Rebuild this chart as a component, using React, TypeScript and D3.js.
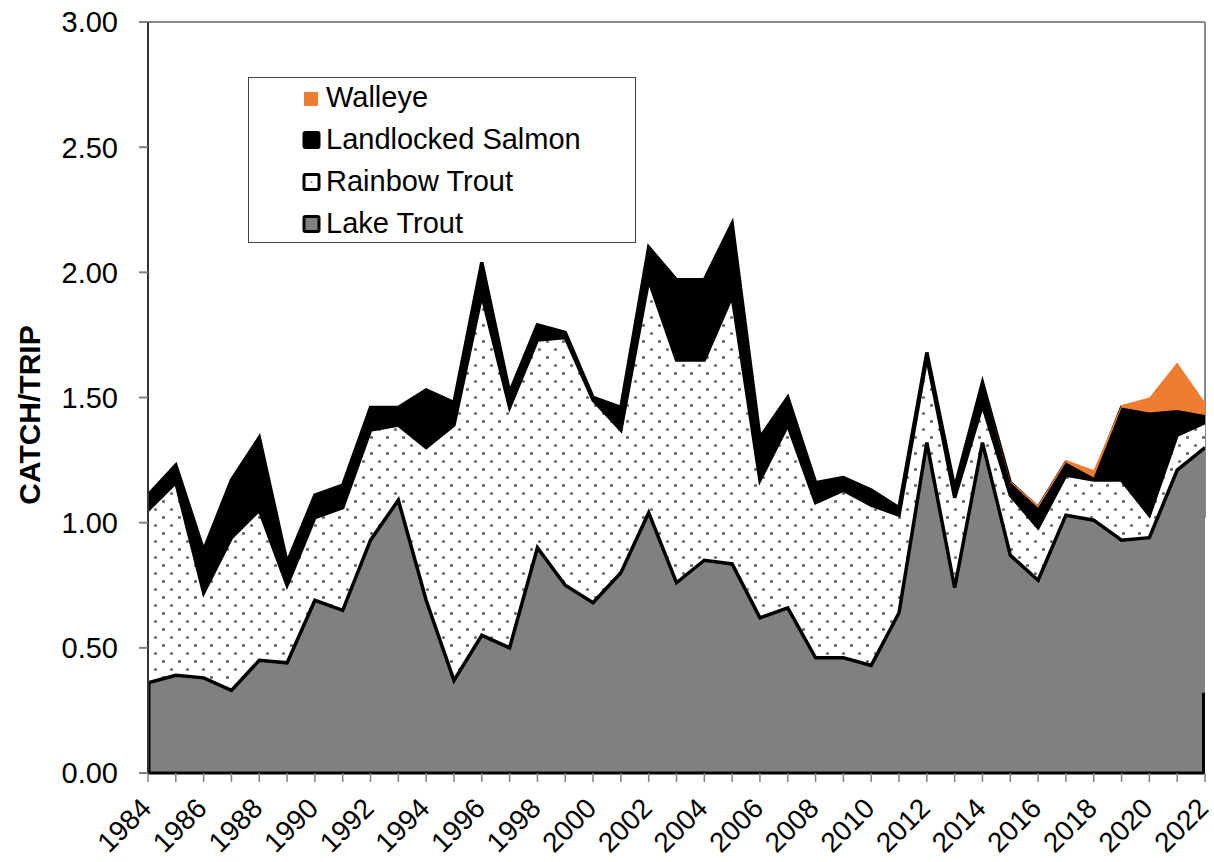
import React from "react";
import * as d3 from "d3";

const years: number[] = [
  1984, 1985, 1986, 1987, 1988, 1989, 1990, 1991, 1992, 1993, 1994, 1995, 1996,
  1997, 1998, 1999, 2000, 2001, 2002, 2003, 2004, 2005, 2006, 2007, 2008, 2009,
  2010, 2011, 2012, 2013, 2014, 2015, 2016, 2017, 2018, 2019, 2020, 2021, 2022,
];

const lakeTrout: number[] = [
  0.36, 0.39, 0.38, 0.33, 0.45, 0.44, 0.69, 0.65, 0.93, 1.09, 0.69, 0.37, 0.55,
  0.5, 0.9, 0.75, 0.68, 0.8, 1.04, 0.76, 0.85, 0.835, 0.62, 0.66, 0.46, 0.46,
  0.43, 0.64, 1.32, 0.74, 1.32, 0.87, 0.77, 1.03, 1.01, 0.93, 0.94, 1.21, 1.3,
];

const rainbowTrout: number[] = [
  0.69, 0.77, 0.34, 0.61, 0.6, 0.31, 0.33, 0.41, 0.44, 0.3, 0.61, 1.02, 1.36,
  0.96, 0.83, 0.99, 0.81, 0.57, 0.93, 0.89, 0.8, 1.07, 0.55, 0.73, 0.62, 0.67,
  0.64, 0.39, 0.34, 0.36, 0.15, 0.24, 0.21, 0.16, 0.16, 0.24, 0.09, 0.14, 0.1,
];

const landlockedSalmon: number[] = [
  0.06, 0.07, 0.17, 0.23, 0.29, 0.09, 0.09, 0.09, 0.09, 0.07, 0.23, 0.09, 0.13,
  0.06, 0.06, 0.02, 0.01, 0.09, 0.13, 0.32, 0.32, 0.29, 0.17, 0.11, 0.08, 0.05,
  0.06, 0.03, 0.02, 0.04, 0.09, 0.05, 0.08, 0.05, 0.01, 0.29, 0.41, 0.1, 0.03,
];

const walleye: number[] = [
  0, 0, 0, 0, 0, 0, 0, 0, 0, 0, 0, 0, 0, 0, 0, 0, 0, 0, 0, 0, 0, 0, 0, 0, 0, 0,
  0, 0, 0, 0, 0, 0.005, 0.01, 0.01, 0.03, 0.01, 0.06, 0.19, 0.05,
];

const yTicks: number[] = [0, 0.5, 1, 1.5, 2, 2.5, 3];
const xLabelYears: number[] = years.filter((y) => (y - 1984) % 2 === 0);

const keys = ["lake", "rainbow", "salmon", "walleye"] as const;
const legendItems = [
  { key: "walleye", label: "Walleye" },
  { key: "salmon", label: "Landlocked Salmon" },
  { key: "rainbow", label: "Rainbow Trout" },
  { key: "lake", label: "Lake Trout" },
];

const W = 1214;
const H = 862;
const M = { left: 148, right: 1205, top: 22, bottom: 773 };
const FONT = "'Liberation Sans', Arial, sans-serif";

export default function App() {
  const rows = years.map((yr, i) => ({
    year: yr,
    lake: lakeTrout[i],
    rainbow: rainbowTrout[i],
    salmon: landlockedSalmon[i],
    walleye: walleye[i],
  }));
  const stacked = d3.stack<any>().keys(keys as any)(rows);

  const x = d3.scaleLinear().domain([1984, 2022]).range([M.left, M.right]);
  const y = d3.scaleLinear().domain([0, 3]).range([M.bottom, M.top]);

  const area = d3
    .area<any>()
    .x((d) => x(d.data.year))
    .y0((d) => y(d[0]))
    .y1((d) => y(d[1]));
  const topLine = d3
    .line<any>()
    .x((d) => x(d.data.year))
    .y((d) => y(d[1]));

  const [sLake, sRain, sSalmon, sWalleye] = stacked;
  const fills: Record<string, string> = {
    lake: "#808080",
    rainbow: "url(#dots)",
    salmon: "#000000",
    walleye: "#ED7D31",
  };

  return (
    <div style={{ position: "absolute", left: 0, top: 0 }}>
      <svg width={W} height={H} style={{ display: "block", background: "#fff" }}>
        <defs>
          <pattern id="dots" width={16} height={16} patternUnits="userSpaceOnUse" x={2} y={4}>
            <rect width={16} height={16} fill="#fff" />
            <circle cx={1.5} cy={1.5} r={1.6} fill="#6e6e6e" />
            <circle cx={9.5} cy={9.5} r={1.6} fill="#6e6e6e" />
          </pattern>
          <clipPath id="plotclip">
            <rect x={M.left} y={M.top - 10} width={M.right - M.left} height={M.bottom - M.top + 12} />
          </clipPath>
        </defs>

        {/* frame */}
        <line x1={M.left} x2={M.right} y1={M.top} y2={M.top} stroke="#8a8a8a" strokeWidth={2} />
        <line x1={M.right} x2={M.right} y1={M.top} y2={y(1.02)} stroke="#8a8a8a" strokeWidth={2} />

        <g clipPath="url(#plotclip)">
          <path d={area(sLake) || ""} fill={fills.lake} />
          <path d={area(sRain) || ""} fill={fills.rainbow} />
          <path d={area(sSalmon) || ""} fill={fills.salmon} />
          <path d={topLine(sLake) || ""} fill="none" stroke="#000" strokeWidth={3.5} strokeLinejoin="miter" />
          <path d={topLine(sRain) || ""} fill="none" stroke="#000" strokeWidth={3.5} strokeLinejoin="miter" />
          <path d={topLine(sSalmon) || ""} fill="none" stroke="#000" strokeWidth={3.5} strokeLinejoin="miter" />
          <path d={area(sWalleye.filter((d: any) => d.data.year >= 2014)) || ""} fill={fills.walleye} />
          <line x1={M.left + 1} x2={M.left + 1} y1={y(0)} y2={y(lakeTrout[0])} stroke="#000" strokeWidth={3} />
          <line x1={M.right - 1.5} x2={M.right - 1.5} y1={y(0)} y2={y(0.32)} stroke="#000" strokeWidth={3} />
        </g>

        {/* axes */}
        <line x1={M.left} x2={M.left} y1={M.top} y2={M.bottom} stroke="#333" strokeWidth={2} />
        <line x1={M.left} x2={M.right} y1={M.bottom} y2={M.bottom} stroke="#000" strokeWidth={3} />
        {yTicks.map((t) => (
          <g key={t}>
            <line x1={M.left - 9} x2={M.left} y1={y(t)} y2={y(t)} stroke="#808080" strokeWidth={2} />
            <text
              x={118}
              y={y(t)}
              dy="0.36em"
              textAnchor="end"
              fontFamily={FONT}
              fontSize={29}
              fill="#000"
            >
              {t.toFixed(2)}
            </text>
          </g>
        ))}
        {years.map((yr) => (
          <line key={yr} x1={x(yr)} x2={x(yr)} y1={M.bottom} y2={M.bottom + 9} stroke="#808080" strokeWidth={1.5} />
        ))}
        {xLabelYears.map((yr) => (
          <text
            key={yr}
            transform={`translate(${x(yr) + 5},${810}) rotate(-45)`}
            textAnchor="end"
            fontFamily={FONT}
            fontSize={28}
            fill="#000"
          >
            {yr}
          </text>
        ))}
        <text
          transform={`translate(${40},${415}) rotate(-90)`}
          textAnchor="middle"
          fontFamily={FONT}
          fontSize={30}
          fontWeight="bold"
          fill="#000"
        >
          CATCH/TRIP
        </text>

        {/* legend */}
        <rect x={248.5} y={77.5} width={387} height={165} fill="#fff" stroke="#444" strokeWidth={1} />
        {legendItems.map((it, i) => {
          const by = 107 + i * 42;
          return (
            <g key={it.key}>
              {it.key === "walleye" ? (
                <rect x={304} y={by - 15} width={14} height={14} fill={fills.walleye} />
              ) : (
                <g>
                  <rect
                    x={304}
                    y={by - 16.5}
                    width={15}
                    height={15}
                    rx={1.5}
                    fill={it.key === "rainbow" ? "#fff" : fills[it.key]}
                    stroke="#000"
                    strokeWidth={3}
                  />
                  {it.key === "rainbow" && <circle cx={311.5} cy={by - 9} r={1} fill="#7a7a7a" />}
                </g>
              )}
              <text x={326} y={by} fontFamily={FONT} fontSize={29} fill="#000">
                {it.label}
              </text>
            </g>
          );
        })}
      </svg>
    </div>
  );
}
